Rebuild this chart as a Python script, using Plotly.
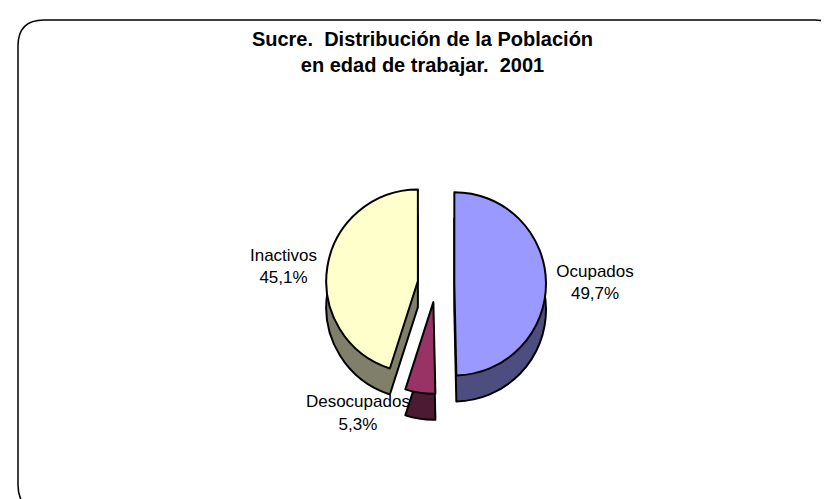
import plotly.graph_objects as go

categories = ["Ocupados", "Desocupados", "Inactivos"]
values = [49.7, 5.3, 45.1]
top_colors = ["#9999FF", "#993366", "#FFFFCC"]
side_colors = ["#4D4D80", "#4D1A33", "#80806A"]
title_text = "<b>Sucre.  Distribución de la Población<br>en edad de trabajar.  2001</b>"

W, H = 829, 499
pull = [0.2, 0.2, 0.2]

def dom_y(top_px, bottom_px):
    return [1 - bottom_px / H, 1 - top_px / H]

x_dom = [318 / W, 538 / W]

fig = go.Figure()
# depth (side) layer, drawn first and shifted down
fig.add_trace(go.Pie(
    labels=categories, values=values, sort=False, direction="clockwise", rotation=0,
    pull=pull, marker=dict(colors=side_colors, line=dict(color="black", width=2)),
    textinfo="none", hoverinfo="skip", showlegend=False,
    domain=dict(x=x_dom, y=dom_y(192, 412)),
))
# top face layer
fig.add_trace(go.Pie(
    labels=categories, values=values, sort=False, direction="clockwise", rotation=0,
    pull=pull, marker=dict(colors=top_colors, line=dict(color="black", width=2)),
    texttemplate="%{label}<br>%{percent:.1%}", textposition="outside",
    textfont=dict(family="Liberation Sans, Arial", size=17, color="black"),
    showlegend=False,
    domain=dict(x=x_dom, y=dom_y(166, 386)),
))

# rounded frame
x0, y0, x1, y1 = 10 / W, 1 - 503 / H, 833 / W, 1 - 12 / H
rx, ry = 26 / W, 26 / H
path = (f"M {x0+rx},{y1} L {x1-rx},{y1} Q {x1},{y1} {x1},{y1-ry} "
        f"L {x1},{y0+ry} Q {x1},{y0} {x1-rx},{y0} L {x0+rx},{y0} "
        f"Q {x0},{y0} {x0},{y0+ry} L {x0},{y1-ry} Q {x0},{y1} {x0+rx},{y1} Z")

fig.update_layout(
    width=W, height=H,
    margin=dict(l=0, r=0, t=0, b=0),
    paper_bgcolor="white", plot_bgcolor="white",
    separators=",.",
    title=dict(text=title_text, x=0.5, xanchor="center", y=1 - 38 / H, yanchor="top",
               font=dict(family="Liberation Sans, Arial", size=20, color="black")),
    shapes=[dict(type="path", path=path, xref="paper", yref="paper",
                 line=dict(color="black", width=1.5), fillcolor="rgba(0,0,0,0)")],
)

fig.write_html("out.html")
